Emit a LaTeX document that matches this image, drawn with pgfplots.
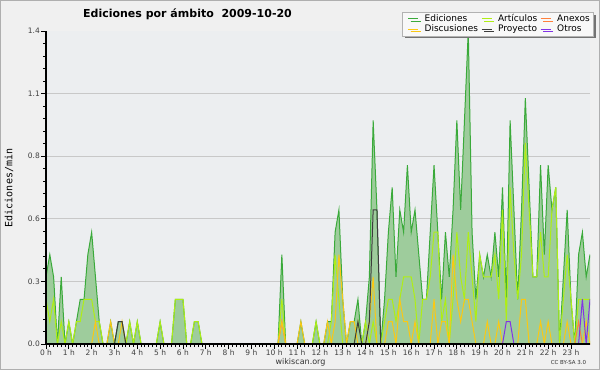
\documentclass[border=0pt]{standalone}
\usepackage{fontspec}
\setmainfont{DejaVu Sans}
\newfontfamily\monofont{DejaVu Sans Mono}
\usepackage{pgfplots}
\usepackage{pgfplotstable}
\pgfplotsset{compat=1.18}
\usetikzlibrary{shadows}
\definecolor{outerbg}{RGB}{240,240,240}
\definecolor{plotbg}{RGB}{236,238,240}
\definecolor{framegray}{RGB}{175,175,175}
\definecolor{gridgray}{RGB}{200,200,200}
\definecolor{fillgreen}{RGB}{158,204,156}
\definecolor{edgreen}{RGB}{58,170,58}
\definecolor{artlime}{RGB}{175,238,20}
\definecolor{anxorange}{RGB}{255,128,60}
\definecolor{discgold}{RGB}{250,200,20}
\definecolor{projgray}{RGB}{60,60,60}
\definecolor{otrpurple}{RGB}{130,50,230}
\definecolor{legendbg}{RGB}{248,248,248}

\pgfplotstableread{
i ed art anx disc proj otr
0 0.3 0.2 0 0 0 0
1 0.4 0.1 0 0 0 0
2 0.3 0.2 0 0 0 0
3 0 0 0 0 0 0
4 0.3 0.1 0 0 0 0
5 0 0 0 0 0 0
6 0.1 0.1 0 0 0 0
7 0 0 0 0 0 0
8 0.1 0.1 0 0 0 0
9 0.2 0.1 0 0 0 0
10 0.2 0.2 0 0 0 0
11 0.4 0.2 0 0 0 0
12 0.5 0.2 0 0 0 0
13 0.3 0.1 0 0.1 0 0
14 0.1 0.1 0 0 0 0
15 0 0 0 0 0 0
16 0 0 0 0 0 0
17 0.1 0 0 0.1 0 0
18 0 0 0 0 0 0
19 0.1 0 0 0 0.1 0
20 0.1 0 0 0.1 0.1 0
21 0 0 0 0 0 0
22 0.1 0.1 0 0 0 0
23 0 0 0 0 0 0
24 0.1 0.1 0 0 0 0
25 0 0 0 0 0 0
26 0 0 0 0 0 0
27 0 0 0 0 0 0
28 0 0 0 0 0 0
29 0 0 0 0 0 0
30 0.1 0.1 0 0 0 0
31 0 0 0 0 0 0
32 0 0 0 0 0 0
33 0 0 0 0 0 0
34 0.2 0.2 0 0 0 0
35 0.2 0.2 0 0 0 0
36 0.2 0.2 0 0 0 0
37 0 0 0 0 0 0
38 0 0 0 0 0 0
39 0.1 0.1 0 0 0 0
40 0.1 0.1 0 0 0 0
41 0 0 0 0 0 0
42 0 0 0 0 0 0
43 0 0 0 0 0 0
44 0 0 0 0 0 0
45 0 0 0 0 0 0
46 0 0 0 0 0 0
47 0 0 0 0 0 0
48 0 0 0 0 0 0
49 0 0 0 0 0 0
50 0 0 0 0 0 0
51 0 0 0 0 0 0
52 0 0 0 0 0 0
53 0 0 0 0 0 0
54 0 0 0 0 0 0
55 0 0 0 0 0 0
56 0 0 0 0 0 0
57 0 0 0 0 0 0
58 0 0 0 0 0 0
59 0 0 0 0 0 0
60 0 0 0 0 0 0
61 0 0 0 0 0 0
62 0.4 0.2 0.1 0.1 0 0
63 0 0 0 0 0 0
64 0 0 0 0 0 0
65 0 0 0 0 0 0
66 0 0 0 0 0 0
67 0.1 0 0 0.1 0 0
68 0 0 0 0 0 0
69 0 0 0 0 0 0
70 0 0 0 0 0 0
71 0.1 0.1 0 0 0 0
72 0 0 0 0 0 0
73 0 0 0 0 0 0
74 0.1 0 0 0.1 0 0
75 0.1 0.1 0 0 0 0
76 0.5 0.4 0 0.1 0 0
77 0.6 0.2 0 0.4 0 0
78 0.2 0 0 0.2 0 0
79 0 0 0 0 0 0
80 0.1 0 0 0.1 0 0
81 0.1 0 0 0.1 0 0
82 0.2 0.1 0 0 0.1 0
83 0 0 0 0 0 0
84 0.1 0.1 0 0 0 0
85 0.3 0 0 0.1 0.1 0
86 1.0 0.1 0 0.3 0.6 0
87 0.6 0 0 0 0.6 0
88 0 0 0 0 0 0
89 0.2 0.1 0 0 0 0
90 0.5 0.2 0 0.1 0 0
91 0.7 0.2 0 0.1 0 0
92 0.3 0.1 0 0 0 0
93 0.6 0.2 0 0.2 0 0
94 0.5 0.3 0 0.1 0 0
95 0.8 0.3 0 0.1 0 0
96 0.5 0.3 0 0 0 0
97 0.6 0.2 0 0.1 0 0
98 0.4 0 0 0 0 0
99 0.2 0.2 0 0 0 0
100 0.2 0.2 0 0 0 0
101 0.5 0.3 0 0 0 0
102 0.8 0.5 0 0.2 0 0
103 0.5 0.5 0 0 0 0
104 0.2 0.1 0 0.1 0 0
105 0.5 0.2 0 0.1 0 0
106 0.3 0 0 0 0 0
107 0.6 0.2 0 0.4 0 0
108 1.0 0.5 0 0.2 0 0
109 0.6 0.3 0 0.1 0 0
110 1.0 0.2 0 0.2 0 0
111 1.4 0.5 0 0.2 0 0
112 0.5 0.3 0 0.1 0 0
113 0.2 0.1 0 0 0 0
114 0.4 0.4 0 0 0 0
115 0.3 0.3 0 0 0 0
116 0.4 0.3 0 0.1 0 0
117 0.3 0.3 0 0 0 0
118 0.5 0.4 0 0 0 0
119 0.3 0.2 0 0.1 0 0
120 0.7 0.6 0 0 0 0
121 0.2 0.1 0 0 0 0.1
122 1.0 0.7 0 0 0 0.1
123 0.6 0.4 0 0 0 0
124 0.2 0.2 0 0 0 0
125 0.6 0.4 0 0.2 0 0
126 1.1 0.9 0 0.2 0 0
127 0.7 0.6 0 0 0 0
128 0.3 0.3 0 0 0 0
129 0.3 0.3 0 0 0 0
130 0.8 0.5 0 0.1 0 0
131 0.4 0.3 0 0 0 0
132 0.8 0.3 0 0.1 0 0
133 0.6 0.6 0 0 0 0
134 0.7 0.7 0 0 0 0
135 0 0 0 0 0 0
136 0.3 0.2 0 0 0 0
137 0.6 0.4 0 0.1 0 0
138 0.2 0.2 0 0 0 0
139 0 0 0 0 0 0
140 0.4 0.2 0.1 0 0 0
141 0.5 0.2 0 0 0 0.2
142 0.3 0.2 0 0.1 0 0
143 0.4 0.2 0 0 0 0.2
}\data

\begin{document}
\begin{tikzpicture}[x=1pt,y=1pt]
\fill[outerbg] (0,0) rectangle (600,370);
\draw[framegray,line width=1.2pt] (0.6,0.6) rectangle (599.4,369.4);
\begin{axis}[
  at={(46pt,26pt)}, anchor=south west,
  scale only axis, width=544pt, height=313pt,
  xmin=0, xmax=143, ymin=0, ymax=1.4,
  axis on top,
  axis lines*=left,
  axis line style={line width=1.2pt, black},
  axis background/.style={fill=plotbg},
  clip=true,
  tick align=outside,
  major tick length=5pt, minor tick length=3pt,
  every tick/.style={black, line width=0.9pt},
  xtick={0,6,...,138},
  xticklabels={0 h,1 h,2 h,3 h,4 h,5 h,6 h,7 h,8 h,9 h,10 h,11 h,12 h,13 h,14 h,15 h,16 h,17 h,18 h,19 h,20 h,21 h,22 h,23 h},
  minor x tick num=5,
  ytick={0,0.28,0.56,0.84,1.12,1.4},
  yticklabels={0.0,0.3,0.6,0.8,1.1,1.4},
  minor y tick num=4,
  xticklabel style={font=\fontsize{7.5}{8}\selectfont, text=black!75, inner sep=1pt},
  yticklabel style={font=\fontsize{7.5}{8}\selectfont, text=black!75, inner sep=1pt},
  legend columns=3,
  legend cell align=left,
  legend image code/.code={\draw[#1] (0pt,0pt) -- (10pt,0pt); \path (-2pt,0pt) (15pt,0pt);},
  legend style={at={(1.0074,1.0607)}, anchor=north east, fill=legendbg, draw=gray!60, line width=0.6pt,
    font=\fontsize{9}{10}\selectfont,
    drop shadow={shadow xshift=2.5pt, shadow yshift=-2.5pt, fill=black!55, opacity=1},
    inner xsep=3pt, inner ysep=2pt, row sep=1pt,
    nodes={inner xsep=1pt, inner ysep=0.5pt, text height=6.5pt, text depth=1.8pt},
    /tikz/every odd column/.append style={column sep=0pt},
    /tikz/every even column/.append style={column sep=0pt}},
]
\addplot[gridgray, line width=0.8pt, forget plot] coordinates {(0,0.28) (143,0.28)};
\addplot[gridgray, line width=0.8pt, forget plot] coordinates {(0,0.56) (143,0.56)};
\addplot[gridgray, line width=0.8pt, forget plot] coordinates {(0,0.84) (143,0.84)};
\addplot[gridgray, line width=0.8pt, forget plot] coordinates {(0,1.12) (143,1.12)};
\addplot[draw=none, fill=fillgreen, forget plot] table[x=i,y=ed]{\data} \closedcycle;
\addplot[edgreen, line width=1pt] table[x=i,y=ed]{\data};
\addlegendentry{Ediciones}
\addplot[artlime, line width=1pt] table[x=i,y=art]{\data};
\addlegendentry{Artículos}
\addplot[anxorange, line width=1pt] table[x=i,y=anx]{\data};
\addlegendentry{Anexos}
\addplot[discgold, line width=1pt] table[x=i,y=disc]{\data};
\addlegendentry{Discusiones}
\addplot[projgray, line width=1pt] table[x=i,y=proj]{\data};
\addlegendentry{Proyecto}
\addplot[otrpurple, line width=1pt] table[x=i,y=otr]{\data};
\addlegendentry{Otros}
\end{axis}
\node[font=\bfseries\fontsize{11}{13}\selectfont] at (187.5,356) {Ediciones por ámbito\ \ 2009-10-20};
\node[rotate=90, font=\monofont\fontsize{10}{12}\selectfont] at (9,182) {Ediciones/min};
\node[font=\fontsize{8}{9}\selectfont, text=black!80] at (300.5,8) {wikiscan.org};
\node[font=\fontsize{5.5}{6}\selectfont, text=black!80] at (568.5,8) {CC BY-SA 3.0};
\end{tikzpicture}
\end{document}
